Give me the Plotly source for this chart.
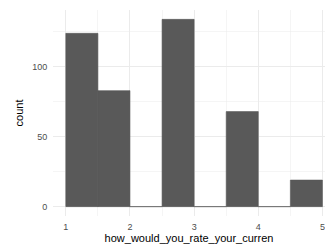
import plotly.graph_objects as go

bin_edges = [1.0, 1.5, 2.0, 2.5, 3.0, 3.5, 4.0, 4.5, 5.0]
counts = [124, 83, 0, 134, 0, 68, 0, 19]
x_ticks = [1, 2, 3, 4, 5]
y_ticks = [0, 50, 100]

centers = [(a + b) / 2 for a, b in zip(bin_edges[:-1], bin_edges[1:])]
widths = [b - a for a, b in zip(bin_edges[:-1], bin_edges[1:])]

fig = go.Figure()
fig.add_trace(go.Bar(
    x=centers, y=counts, width=widths,
    marker=dict(color="#595959", line=dict(color="#595959", width=0.6)),
    hoverinfo="skip",
))

grid = "#EBEBEB"
font = "Liberation Sans, Arial, sans-serif"
fig.update_layout(
    width=325, height=246,
    margin=dict(l=53, r=0, t=10, b=30),
    paper_bgcolor="white", plot_bgcolor="white",
    showlegend=False,
    font=dict(family=font, color="#4D4D4D", size=9),
    bargap=0,
    xaxis=dict(
        range=[0.8, 5.04], tickvals=x_ticks, ticktext=[str(v) for v in x_ticks],
        showgrid=True, gridcolor=grid, gridwidth=1,
        minor=dict(dtick=0.5, tick0=0, showgrid=True, gridcolor=grid, gridwidth=0.5),
        zeroline=False, showline=False, automargin=False,
        ticks="outside", ticklen=2, tickcolor="rgba(0,0,0,0)",
        ticklabeloverflow="allow",
        tickfont=dict(size=9, color="#4D4D4D"),
        title=dict(text="how_would_you_rate_your_curren", font=dict(size=11, color="black"), standoff=1),
    ),
    yaxis=dict(
        range=[-6.7, 140.7], tickvals=y_ticks, ticktext=[str(v) for v in y_ticks],
        showgrid=True, gridcolor=grid, gridwidth=1,
        minor=dict(dtick=25, tick0=0, showgrid=True, gridcolor=grid, gridwidth=0.5),
        zeroline=False, showline=False, automargin=False,
        ticks="outside", ticklen=3, tickcolor="rgba(0,0,0,0)",
        tickfont=dict(size=9, color="#4D4D4D"),
        title=dict(text="count", font=dict(size=11, color="black"), standoff=6),
    ),
)
fig.write_html(
    "out.html",
    config={"displayModeBar": False, "staticPlot": True},
    post_script="document.body.style.margin='0';document.body.style.overflow='hidden';",
)
